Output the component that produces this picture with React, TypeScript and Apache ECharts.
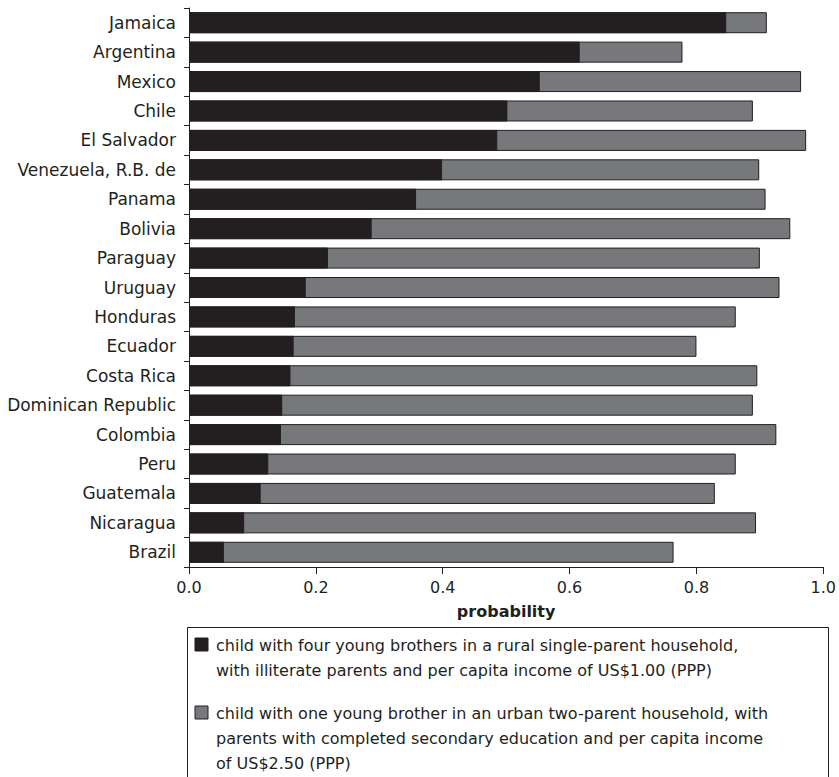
import React, { useEffect, useRef } from "react";
import * as echarts from "echarts";

const countries = [
  "Jamaica", "Argentina", "Mexico", "Chile", "El Salvador", "Venezuela, R.B. de",
  "Panama", "Bolivia", "Paraguay", "Uruguay", "Honduras", "Ecuador", "Costa Rica",
  "Dominican Republic", "Colombia", "Peru", "Guatemala", "Nicaragua", "Brazil",
];
const ruralProb = [
  0.847, 0.616, 0.553, 0.502, 0.486, 0.399, 0.358, 0.288, 0.219, 0.184, 0.167,
  0.165, 0.160, 0.147, 0.145, 0.125, 0.113, 0.087, 0.055,
];
const urbanProb = [
  0.911, 0.778, 0.965, 0.889, 0.973, 0.899, 0.909, 0.948, 0.900, 0.931, 0.862,
  0.800, 0.896, 0.889, 0.926, 0.862, 0.829, 0.894, 0.764,
];
const legendRural = [
  "child with four young brothers in a rural single-parent household,",
  "with illiterate parents and per capita income of US$1.00 (PPP)",
];
const legendUrban = [
  "child with one young brother in an urban two-parent household, with",
  "parents with completed secondary education and per capita income",
  "of US$2.50 (PPP)",
];

const FONT = "DejaVu Sans";
const INK = "#231f20";
const GRAY = "#77787b";

export default function App() {
  const ref = useRef<HTMLDivElement>(null);
  useEffect(() => {
    if (!ref.current) return;
    const chart = echarts.init(ref.current, null, { renderer: "svg" });
    const lh = 25;
    chart.setOption({
      animation: false,
      textStyle: { fontFamily: FONT, color: INK },
      grid: { left: 189, right: 9, top: 8, bottom: 210, containLabel: false },
      xAxis: {
        type: "value",
        min: 0,
        max: 1,
        interval: 0.2,
        axisLine: { show: true, lineStyle: { color: INK, width: 1 } },
        axisTick: { show: true, length: 7, lineStyle: { color: INK } },
        splitLine: { show: false },
        axisLabel: {
          fontSize: 16,
          color: INK,
          fontFamily: FONT,
          margin: 12,
          formatter: (v: number) => v.toFixed(1),
        },
        name: "probability",
        nameLocation: "middle",
        nameGap: 36,
        nameTextStyle: { fontSize: 16, fontWeight: "bold", color: INK, fontFamily: FONT },
      },
      yAxis: {
        type: "category",
        inverse: true,
        data: countries,
        axisLine: { show: true, lineStyle: { color: INK, width: 1 } },
        axisTick: { show: true, length: 5, lineStyle: { color: INK } },
        axisLabel: { fontSize: 17, color: INK, fontFamily: FONT, margin: 13 },
      },
      series: [
        {
          name: "urban",
          type: "bar",
          data: urbanProb,
          barWidth: 21,
          barGap: "-100%",
          itemStyle: { color: GRAY, borderColor: INK, borderWidth: 1 },
        },
        {
          name: "rural",
          type: "bar",
          data: ruralProb,
          barWidth: 21,
          barGap: "-100%",
          itemStyle: { color: INK, borderColor: INK, borderWidth: 1 },
        },
      ],
      graphic: [
        {
          type: "rect",
          shape: { x: 187.5, y: 627.5, width: 641, height: 170 },
          style: { fill: "none", stroke: INK, lineWidth: 1 },
        },
        {
          type: "rect",
          shape: { x: 195, y: 638, width: 13, height: 13 },
          style: { fill: INK, stroke: INK, lineWidth: 1 },
        },
        {
          type: "text",
          x: 216,
          y: 633,
          style: {
            text: legendRural.join("\n"),
            fontSize: 16,
            lineHeight: lh,
            fontFamily: FONT,
            fill: INK,
          },
        },
        {
          type: "rect",
          shape: { x: 195, y: 706, width: 13, height: 13 },
          style: { fill: GRAY, stroke: INK, lineWidth: 1 },
        },
        {
          type: "text",
          x: 216,
          y: 701,
          style: {
            text: legendUrban.join("\n"),
            fontSize: 16,
            lineHeight: lh,
            fontFamily: FONT,
            fill: INK,
          },
        },
      ],
    });
    return () => chart.dispose();
  }, []);
  return <div ref={ref} style={{ width: 839, height: 777, position: "absolute", left: 0, top: 0 }} />;
}
